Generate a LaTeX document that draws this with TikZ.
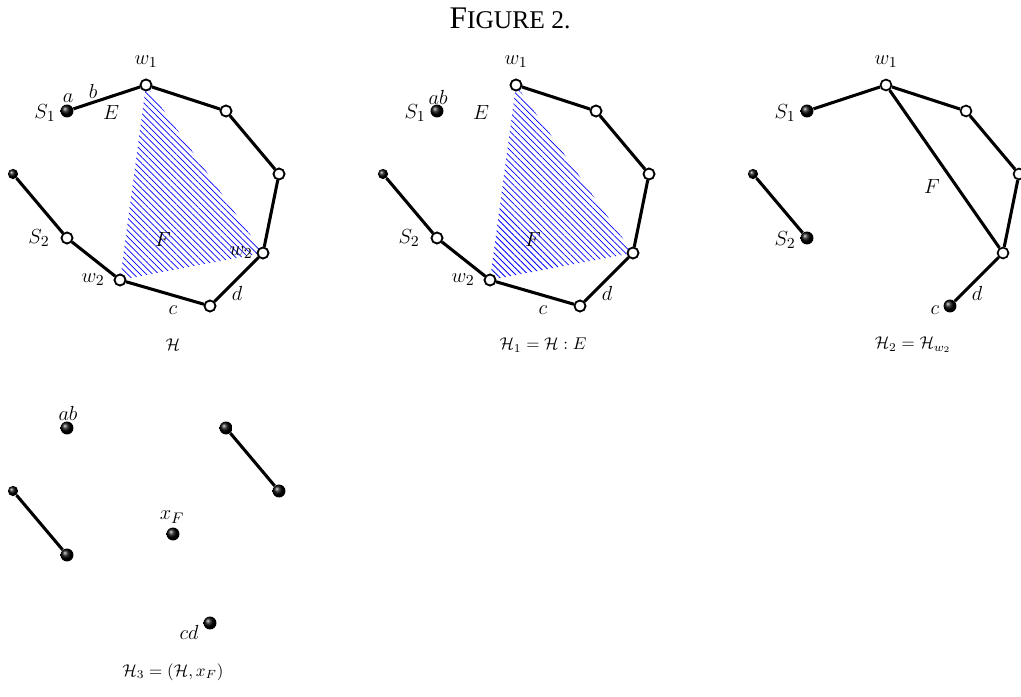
\documentclass[tikz,border=0pt]{standalone}
\usepackage{amsmath}
\usepackage{fontspec}
\newfontfamily\titlefont{Liberation Serif}
\usetikzlibrary{patterns.meta,calc}

\tikzset{
  vtx/.style={circle,draw,fill=white,line width=1pt,inner sep=0pt,minimum size=6.4pt},
  ballv/.style={circle,ball color=black,inner sep=0pt,minimum size=7.6pt},
  sballv/.style={circle,ball color=black,inner sep=0pt,minimum size=6pt},
  edge/.style={line width=1.8pt},
  hatch/.style={pattern={Lines[angle=-45,distance=2.6pt,line width=0.45pt]},pattern color=blue},
  lbl/.style={font=\fontsize{12.5}{15}\selectfont,inner sep=0pt},
  capt/.style={inner sep=0pt},
}

\begin{document}
\begin{tikzpicture}[x=0.588pt,y=-0.588pt]
\useasboundingbox (0,0) rectangle (1021,697);
\clip (0,0) rectangle (1021,697);

\node[inner sep=0pt] (title) at (510,18) {\titlefont{\fontsize{18.5}{22}\selectfont F}{\fontsize{15}{18}\selectfont IGURE 2.}};

% H and H_1 = H : E
\foreach \p/\dx in {H/0,Hone/370}{
  \node[sballv] (\p-t) at (\dx+13,174) {};
  \node[vtx] (\p-S2) at (\dx+67,238) {};
  \node[vtx] (\p-w2l) at (\dx+120,280) {};
  \node[vtx] (\p-bd) at (\dx+210,306) {};
  \node[vtx] (\p-w2r) at (\dx+263,253) {};
  \node[vtx] (\p-r) at (\dx+279,174) {};
  \node[vtx] (\p-u) at (\dx+226,111) {};
  \node[vtx] (\p-w1) at (\dx+146,85) {};
  \node[ballv] (\p-S1) at (\dx+67,111) {};
  \fill[hatch] (\p-w1.center) -- (\p-w2l.center) -- (\p-w2r.center) -- cycle;
  \draw[edge] (\p-t) -- (\p-S2) -- (\p-w2l) -- (\p-bd) -- (\p-w2r) -- (\p-r) -- (\p-u) -- (\p-w1);
}
\draw[edge] (H-w1) -- (H-S1);

% redraw vertices over the hatching
\foreach \p in {H,Hone}{
  \foreach \v in {S2,w2l,bd,w2r,r,u,w1}
    \node[vtx] (\p-\v-o) at (\p-\v) {};
}

% H_2 = H_{w_2}
\node[sballv] (Htwo-t) at (753,174) {};
\node[ballv] (Htwo-S2) at (807,238) {};
\node[ballv] (Htwo-S1) at (807,111) {};
\node[vtx] (Htwo-w1) at (886,85) {};
\node[vtx] (Htwo-u) at (966,111) {};
\node[vtx] (Htwo-r) at (1019,174) {};
\node[vtx] (Htwo-w2r) at (1003,253) {};
\node[ballv] (Htwo-c) at (950,306) {};
\draw[edge] (Htwo-t) -- (Htwo-S2);
\draw[edge] (Htwo-S1) -- (Htwo-w1) -- (Htwo-u) -- (Htwo-r) -- (Htwo-w2r) -- (Htwo-c);
\draw[edge] (Htwo-w1) -- (Htwo-w2r);

% H_3 = (H, x_F)
\node[ballv] (Hthree-ab) at (67,428) {};
\node[sballv] (Hthree-t) at (13,491) {};
\node[ballv] (Hthree-s) at (67,555) {};
\node[ballv] (Hthree-u) at (226,428) {};
\node[ballv] (Hthree-r) at (279,491) {};
\node[ballv] (Hthree-xF) at (173,534) {};
\node[ballv] (Hthree-cd) at (210,623) {};
\draw[edge] (Hthree-t) -- (Hthree-s);
\draw[edge] (Hthree-u) -- (Hthree-r);

% labels
\node[lbl] (lH-w1) at (146,62) {$w_1$};
\node[lbl] (lH-S1) at (45,113) {$S_1$};
\node[lbl] (lH-a) at (68,98) {$a$};
\node[lbl] (lH-b) at (93,91) {$b$};
\node[lbl] (lH-E) at (111,113) {$E$};
\node[lbl] (lH-F) at (163,240) {$F$};
\node[lbl] (lH-w2r) at (241,253) {$w_2$};
\node[lbl] (lH-w2l) at (93,280) {$w_2$};
\node[lbl] (lH-S2) at (39,238) {$S_2$};
\node[lbl] (lH-c) at (173,310) {$c$};
\node[lbl] (lH-d) at (237,293) {$d$};

\node[lbl] (lHone-w1) at (516,62) {$w_1$};
\node[lbl] (lHone-S1) at (415,113) {$S_1$};
\node[lbl] (lHone-ab) at (438,97) {$ab$};
\node[lbl] (lHone-E) at (481,113) {$E$};
\node[lbl] (lHone-F) at (533,240) {$F$};
\node[lbl] (lHone-w2l) at (463,280) {$w_2$};
\node[lbl] (lHone-S2) at (409,238) {$S_2$};
\node[lbl] (lHone-c) at (543,310) {$c$};
\node[lbl] (lHone-d) at (607,293) {$d$};

\node[lbl] (lHtwo-w1) at (886,62) {$w_1$};
\node[lbl] (lHtwo-S1) at (785,113) {$S_1$};
\node[lbl] (lHtwo-F) at (932,187) {$F$};
\node[lbl] (lHtwo-S2) at (785,240) {$S_2$};
\node[lbl] (lHtwo-c) at (935,310) {$c$};
\node[lbl] (lHtwo-d) at (977,293) {$d$};

\node[lbl] (lHthree-ab) at (68,413) {$ab$};
\node[lbl] (lHthree-xF) at (172,517) {$x_F$};
\node[lbl] (lHthree-cd) at (189,632) {$cd$};

% captions
\node[capt] (cH) at (173,345) {$\mathcal{H}$};
\node[capt] (cHone) at (543,345) {$\mathcal{H}_1=\mathcal{H}:E$};
\node[capt] (cHtwo) at (913,345) {$\mathcal{H}_2=\mathcal{H}_{w_2}$};
\node[capt] (cHthree) at (173,672) {$\mathcal{H}_3=(\mathcal{H},x_F)$};

\end{tikzpicture}
\end{document}
